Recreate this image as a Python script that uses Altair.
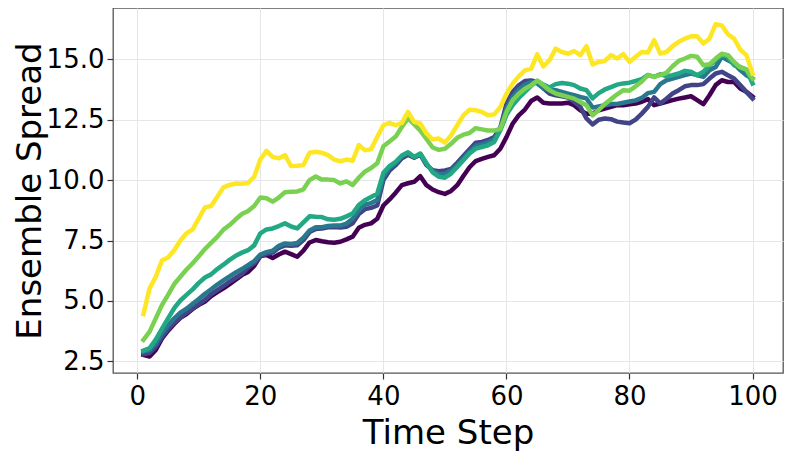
import altair as alt
import pandas as pd

steps = list(range(1, 101))

s_purple = [2.77, 2.7, 2.97, 3.44, 3.77, 4.05, 4.3, 4.46, 4.67, 4.84, 4.98, 5.2, 5.37, 5.52, 5.7, 5.88,
            6.07, 6.2, 6.45, 6.86, 6.9, 6.78, 6.92, 7.04, 6.94, 6.83, 7.08, 7.42, 7.52, 7.47, 7.43, 7.41, 7.45, 7.55,
            7.66, 8.03, 8.15, 8.21, 8.4, 8.95, 9.2, 9.48, 9.79, 9.87, 9.93, 10.16, 9.79, 9.61, 9.5, 9.43,
            9.55, 9.79, 10.17, 10.53, 10.79, 10.88, 10.96, 11.03, 11.3, 11.78, 12.33, 12.68, 12.92, 13.27, 13.42, 13.2,
            13.17, 13.17, 13.17, 13.2, 13.1, 12.89, 12.75, 12.75, 12.89, 12.96, 13.03, 13.1, 13.1, 13.14, 13.17, 13.24, 13.35,
            13.1, 13.17, 13.24, 13.31, 13.37, 13.42, 13.47, 13.31, 13.14, 13.51, 13.93, 14.13, 14.06, 14.06, 13.79, 13.65, 13.45]

s_darkblue = [2.8, 2.85, 3.1, 3.5, 3.83, 4.1, 4.32, 4.52, 4.68, 4.88, 5.05, 5.28, 5.45, 5.62, 5.8, 5.96, 6.12,
              6.38, 6.55, 6.85, 6.95, 7.0, 7.2, 7.3, 7.28, 7.3, 7.52, 7.85, 7.98, 8.0, 8.05, 8.06, 8.04, 8.07,
              8.21, 8.6, 8.8, 8.85, 8.95, 10.0, 10.4, 10.62, 10.9, 11.05, 10.93, 11.05, 10.62, 10.41, 10.37, 10.4,
              10.46, 10.72, 11.0, 11.27, 11.55, 11.58, 11.66, 11.78, 12.16, 13.16, 13.64, 13.92, 14.1, 14.12, 14.06, 13.8,
              13.58, 13.51, 13.47, 13.42, 13.24, 13.03, 12.55, 12.3, 12.5, 12.55, 12.52, 12.42, 12.38, 12.35, 12.5, 12.75, 13.03,
              13.42, 13.17, 13.37, 13.58, 13.72, 13.88, 13.93, 13.93, 13.97, 14.2, 14.41, 14.48, 14.34, 14.2, 13.93, 13.65, 13.37]

s_blueteal = [2.91, 2.97, 3.25, 3.66, 4.0, 4.28, 4.52, 4.68, 4.88, 5.08, 5.3, 5.48, 5.68, 5.85, 6.02, 6.18, 6.32,
              6.48, 6.65, 6.92, 7.02, 7.08, 7.28, 7.38, 7.36, 7.4, 7.62, 7.92, 8.05, 8.05, 8.1, 8.12, 8.12, 8.2,
              8.4, 8.75, 8.98, 9.05, 9.18, 10.15, 10.5, 10.7, 10.98, 11.12, 10.95, 11.08, 10.66, 10.38, 10.25, 10.25,
              10.4, 10.62, 10.9, 11.18, 11.42, 11.48, 11.56, 11.7, 12.1, 12.95, 13.45, 13.75, 13.95, 14.05, 14.0, 13.8,
              13.72, 13.72, 13.65, 13.58, 13.51, 13.44, 13.38, 13.0, 13.05, 13.1, 13.15, 13.15, 13.2, 13.25, 13.3, 13.4, 13.6,
              13.65, 13.97, 14.13, 14.2, 14.27, 14.34, 14.41, 14.34, 14.27, 14.55, 14.68, 15.1, 14.96, 14.82, 14.55, 14.34, 14.2]

s_teal = [2.95, 3.05, 3.4, 3.85, 4.28, 4.7, 5.02, 5.25, 5.48, 5.75, 5.97, 6.1, 6.32, 6.5, 6.7, 6.87, 7.0,
          7.1, 7.3, 7.8, 7.96, 8.0, 8.1, 8.21, 8.08, 8.0, 8.25, 8.5, 8.48, 8.47, 8.38, 8.36, 8.4, 8.5,
          8.62, 8.97, 9.17, 9.3, 9.44, 10.3, 10.58, 10.76, 11.02, 11.15, 10.96, 11.1, 10.7, 10.32, 10.14, 10.1,
          10.27, 10.54, 10.82, 11.1, 11.3, 11.37, 11.44, 11.58, 12.06, 12.7, 13.1, 13.4, 13.65, 13.9, 14.1, 13.95,
          13.83, 13.97, 14.02, 13.99, 13.93, 13.79, 13.72, 13.38, 13.6, 13.75, 13.85, 13.95, 14.0, 14.03, 14.1, 14.18, 14.35,
          14.27, 14.38, 14.3, 14.34, 14.41, 14.52, 14.48, 14.34, 14.48, 14.75, 14.96, 15.17, 15.1, 14.75, 14.68, 14.57, 14.0]

s_green = [3.39, 3.73, 4.28, 4.83, 5.25, 5.7, 6.0, 6.3, 6.56, 6.85, 7.15, 7.4, 7.65, 7.95, 8.14, 8.38, 8.6,
           8.72, 8.93, 9.28, 9.25, 9.11, 9.28, 9.5, 9.52, 9.53, 9.62, 10.0, 10.15, 10.02, 10.02, 10.0, 9.86, 9.95,
           9.8, 10.1, 10.35, 10.5, 10.7, 11.4, 11.6, 11.8, 12.2, 12.55, 12.3, 12.05, 11.7, 11.35, 11.25, 11.3,
           11.5, 11.75, 11.88, 11.95, 12.15, 12.1, 12.05, 12.05, 12.12, 12.82, 13.3, 13.57, 13.78, 13.92, 14.12, 13.92,
           13.72, 13.58, 13.51, 13.44, 13.37, 13.23, 13.1, 12.68, 12.9, 13.15, 13.35, 13.55, 13.72, 13.7, 13.88, 14.08, 14.34,
           14.27, 14.34, 14.44, 14.71, 14.93, 15.03, 15.14, 15.1, 14.75, 14.79, 15.03, 15.23, 15.17, 14.89, 14.66, 14.57, 14.2]

s_yellow = [4.46, 5.52, 6.0, 6.67, 6.8, 7.1, 7.5, 7.8, 7.96, 8.42, 8.87, 8.93, 9.31, 9.7, 9.8, 9.86, 9.85,
            9.88, 10.14, 10.85, 11.21, 10.96, 10.9, 11.03, 10.58, 10.59, 10.62, 11.13, 11.17, 11.13, 11.03, 10.85, 10.78, 10.85,
            10.8, 11.45, 11.24, 11.28, 11.79, 12.27, 12.37, 12.27, 12.37, 12.82, 12.41, 12.34, 11.93, 11.68, 11.72, 11.55,
            11.85, 12.27, 12.68, 12.91, 12.89, 12.82, 12.68, 12.72, 13.02, 13.57, 13.99, 14.29, 14.54, 14.6, 15.2, 14.7,
            14.96, 15.44, 15.3, 15.23, 15.34, 15.17, 15.54, 14.79, 14.89, 14.93, 15.17, 15.03, 15.21, 14.89, 15.1, 15.3, 15.28,
            15.79, 15.23, 15.3, 15.54, 15.72, 15.85, 15.95, 15.95, 15.65, 15.85, 16.45, 16.4, 16.03, 15.85, 15.4, 15.17, 14.41]

series_names = ["s1", "s2", "s3", "s4", "s5", "s6"]
series_colors = ["#440154", "#414487", "#2a788e", "#22a884", "#7ad151", "#fde725"]
series_values = [s_purple, s_darkblue, s_blueteal, s_teal, s_green, s_yellow]

x_ticks = [0, 20, 40, 60, 80, 100]
y_ticks = [2.5, 5.0, 7.5, 10.0, 12.5, 15.0]

rows = []
for name, vals in zip(series_names, series_values):
    for t, v in zip(steps, vals):
        rows.append({"step": t, "value": v, "series": name})
df = pd.DataFrame(rows)

W, H = 670, 365

chart = alt.Chart(df).mark_line(
    strokeWidth=4.5, strokeCap="square", strokeJoin="round"
).encode(
    x=alt.X("step:Q",
            scale=alt.Scale(domain=[-3.95, 104.95], nice=False, zero=False),
            axis=alt.Axis(values=x_ticks, title="Time Step", format="d",
                          labelPadding=4, titleX=W / 2, titleY=70,
                          titleBaseline="alphabetic")),
    y=alt.Y("value:Q",
            scale=alt.Scale(domain=[2.02, 17.12], nice=False, zero=False),
            axis=alt.Axis(values=y_ticks, title="Ensemble Spread", format=".1f",
                          labelPadding=3, titleX=-73, titleY=H / 2,
                          titleAngle=270, titleBaseline="alphabetic")),
    color=alt.Color("series:N",
                    scale=alt.Scale(domain=series_names, range=series_colors),
                    legend=None),
    order=alt.Order("step:Q"),
).properties(
    width=W, height=H,
    padding={"left": 105, "top": 0, "right": 2, "bottom": 80},
    autosize=alt.AutoSizeParams(type="none"),
    background="white",
).configure_axis(
    labelFont="DejaVu Sans", titleFont="DejaVu Sans",
    labelFontSize=26, titleFontSize=34, titleFontWeight="normal",
    labelColor="#000000", titleColor="#000000",
    tickColor="#333333", tickSize=6, tickWidth=1.2,
    domain=False, gridColor="#e6e6e6", gridWidth=1,
).configure_view(
    stroke="#555555", strokeWidth=1.3,
)

chart.save("out.html", embed_options={"renderer": "svg", "actions": False})
